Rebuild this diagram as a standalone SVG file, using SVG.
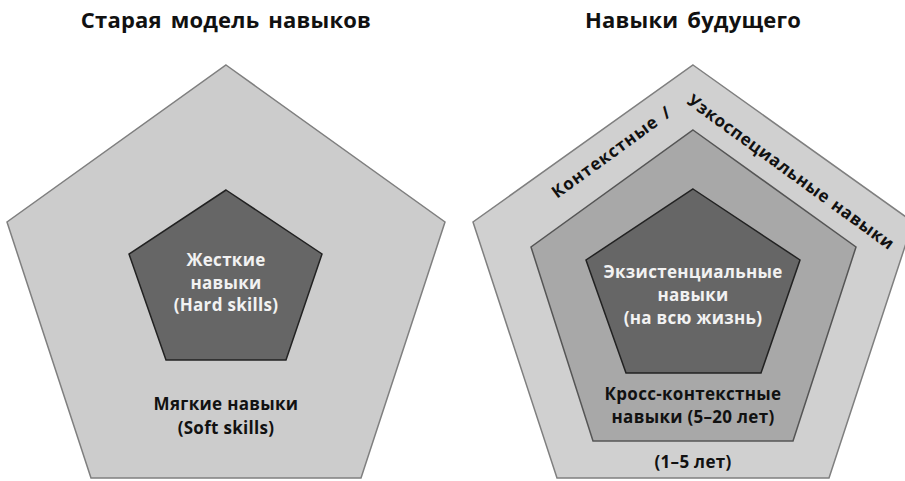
<svg xmlns="http://www.w3.org/2000/svg" width="905" height="481" viewBox="0 0 905 481">
<style>
.t{font-family:"Open Sans","Noto Sans","DejaVu Sans",sans-serif;font-weight:700;text-anchor:middle}
.title{font-size:22px;fill:#111;word-spacing:3px;letter-spacing:0.2px}
.lbl{font-size:17px;fill:#111;letter-spacing:0.3px}
.inv{font-size:17px;fill:#f2f2f2;letter-spacing:0.3px}
.rot{text-anchor:start;letter-spacing:0.9px;word-spacing:3px}
.rot2{text-anchor:start;letter-spacing:0.6px;word-spacing:1px}
.outer{fill:#cccccc;stroke:#7f7f7f;stroke-width:1.5}
.outer2{fill:#d0d0d0;stroke:#7f7f7f;stroke-width:1.5}
.mid{fill:#a8a8a8;stroke:#555;stroke-width:1.5}
.inner{fill:#666666;stroke:#222;stroke-width:1.5}
</style>
<rect width="905" height="481" fill="#ffffff"/>
<g id="title-left"><text class="t title" x="226" y="28">Старая модель навыков</text></g>
<g id="title-right"><text class="t title" x="693" y="28">Навыки будущего</text></g>
<g id="old-soft">
<polygon class="outer" points="226,65 445,222 361,478 91,478 7,222"/>
<text class="t lbl" x="226" y="410">Мягкие навыки</text>
<text class="t lbl" x="226" y="434">(Soft skills)</text>
</g>
<g id="old-hard">
<polygon class="inner" points="226,190 322,254 286,360 166,360 129,254"/>
<text class="t inv" x="226" y="266">Жесткие</text>
<text class="t inv" x="226" y="289">навыки</text>
<text class="t inv" x="226" y="311">(Hard skills)</text>
</g>
<g id="future-context">
<polygon class="outer2" points="693,65 913,222 829,478 557,478 473,222"/>
<text class="t lbl rot" x="557" y="199" transform="rotate(-36 557 199)">Контекстные /</text>
<text class="t lbl rot2" x="686" y="103" transform="rotate(36 686 103)">Узкоспециальные навыки</text>
<text class="t lbl" x="693" y="468">(1–5 лет)</text>
</g>
<g id="future-cross">
<polygon class="mid" points="693,130 856,247 793,441 593,441 531,247"/>
<text class="t lbl" x="693" y="400">Кросс-контекстные</text>
<text class="t lbl" x="693" y="423">навыки (5–20 лет)</text>
</g>
<g id="future-existential">
<polygon class="inner" points="693,189 800,260 761,373 626,373 586,260"/>
<text class="t inv" x="693" y="278">Экзистенциальные</text>
<text class="t inv" x="693" y="301">навыки</text>
<text class="t inv" x="693" y="324">(на всю жизнь)</text>
</g>
<g id="connectors"/>
</svg>
